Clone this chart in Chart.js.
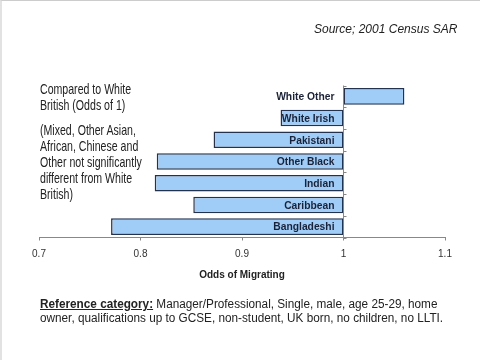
<!DOCTYPE html>
<html>
<head>
<meta charset="utf-8">
<script src="https://cdn.jsdelivr.net/npm/chart.js@4/dist/chart.umd.min.js"></script>
<style>
html,body{margin:0;padding:0;background:#fff;}
#wrap{position:relative;width:480px;height:360px;overflow:hidden;font-family:Arial,"Liberation Sans",sans-serif;color:#222;}
#wrap:after{content:"";position:absolute;left:0;top:0;right:0;bottom:0;border-top:1px solid #ccc;border-left:2px solid #e2e2e2;pointer-events:none;}
#chart{position:absolute;left:0;top:0;}
.txt{position:absolute;font-size:14.5px;line-height:16px;transform:scaleX(0.73);transform-origin:0 0;white-space:nowrap;}
#source{position:absolute;left:314px;top:22px;font-size:12px;font-style:italic;color:#222;}
#note{position:absolute;left:40px;top:297px;font-size:12px;line-height:14px;color:#222;transform:scaleX(0.98);transform-origin:0 0;white-space:nowrap;}
#note b{text-decoration:underline;}
</style>
</head>
<body>
<div id="wrap">
<canvas id="chart" width="480" height="360"></canvas>
<div id="source">Source; 2001 Census SAR</div>
<div class="txt" style="left:40px;top:81px;">Compared to White<br>British (Odds of 1)</div>
<div class="txt" style="left:40px;top:122px;">(Mixed, Other Asian,<br>African, Chinese and<br>Other not significantly<br>different from White<br>British)</div>
<div id="note"><b>Reference category:</b> Manager/Professional, Single, male, age 25-29, home<br>owner, qualifications up to GCSE, non-student, UK born, no children, no LLTI.</div>
</div>
<script>
const groups=["White Other","White Irish","Pakistani","Other Black","Indian","Caribbean","Bangladeshi"];
const odds=[1.06,0.938,0.872,0.816,0.814,0.852,0.771];
const baseline=1;
const xTicks=[0.7,0.8,0.9,1,1.1];

const barLabels={
id:"barLabels",
afterDatasetsDraw(chart){
const c=chart.ctx;
const x=chart.scales.x;
const y=chart.scales.y;
const area=chart.chartArea;
const x1=x.getPixelForValue(baseline);
c.save();
// line at odds of 1
c.strokeStyle="#888";
c.lineWidth=1;
c.beginPath();
c.moveTo(Math.round(x1)+0.5,area.top);
c.lineTo(Math.round(x1)+0.5,area.bottom);
c.stroke();
for(let i=0;i<=groups.length;i++){
const yy=Math.round(y.getPixelForValue(i-0.5))+0.5;
c.beginPath();
c.moveTo(x1,yy);
c.lineTo(x1+3,yy);
c.stroke();
}
c.font="bold 10.3px Arial, 'Liberation Sans', sans-serif";
c.fillStyle="#1b2238";
c.textAlign="right";
c.textBaseline="middle";
groups.forEach((g,i)=>{
c.fillText(g,x1-9,y.getPixelForValue(i)+1);
});
c.restore();
}
};

new Chart(document.getElementById("chart"),{
type:"bar",
data:{
labels:groups,
datasets:[{
data:odds.map(v=>[v,baseline]),
backgroundColor:"#9fcdf7",
borderColor:"#22324f",
borderWidth:1.5,
borderSkipped:false,
categoryPercentage:0.78,
barPercentage:0.98
}]
},
options:{
indexAxis:"y",
responsive:false,
animation:false,
layout:{padding:{left:39,right:35,top:85.5,bottom:78.5}},
plugins:{legend:{display:false},tooltip:{enabled:false}},
scales:{
x:{
min:0.7,max:1.1,
afterBuildTicks(s){s.ticks=xTicks.map(v=>({value:v}));},
grid:{drawOnChartArea:false,tickLength:3,color:"#888"},
border:{color:"#888"},
ticks:{color:"#333",font:{size:10,family:"Arial, 'Liberation Sans', sans-serif"},padding:8,maxRotation:0,callback:v=>String(+v.toFixed(2))},
title:{display:true,text:"Odds of Migrating",color:"#222",font:{size:10,weight:"bold",family:"Arial, 'Liberation Sans', sans-serif"},padding:{top:1,bottom:0}}
},
y:{display:false}
}
},
plugins:[barLabels]
});
</script>
</body>
</html>
